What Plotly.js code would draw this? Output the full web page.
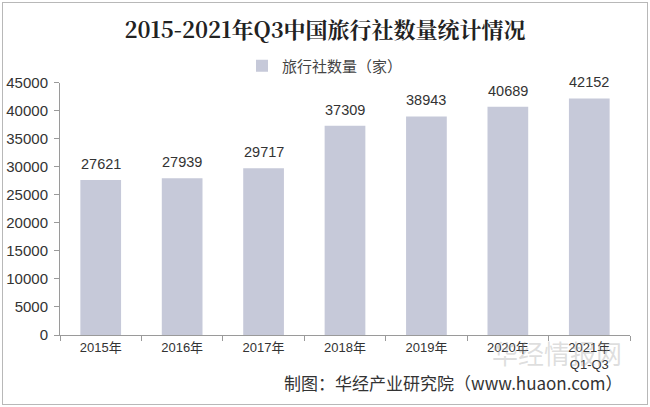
<!DOCTYPE html>
<html>
<head>
<meta charset="utf-8">
<script src="https://cdn.plot.ly/plotly-3.0.1.min.js"></script>
<style>
html,body{margin:0;padding:0;background:#fff;}
#wrap{position:relative;width:650px;height:407px;}
#chart{width:650px;height:407px;}
#frame{position:absolute;left:2px;top:2px;width:644px;height:401px;border:1px solid #b8b8b8;pointer-events:none;}
</style>
</head>
<body>
<div id="wrap"><div id="chart"></div><div id="frame"></div></div>
<script>
var categories = ["2015年","2016年","2017年","2018年","2019年","2020年","2021年<br>Q1-Q3"];
var values = [27621, 27939, 29717, 37309, 38943, 40689, 42152];
var seriesName = "旅行社数量（家）";
var titleText = "2015-2021年Q3中国旅行社数量统计情况";
var sourceText = "制图：华经产业研究院（www.huaon.com）";
var watermarkText = "华经情报网";

var fontFam = "Liberation Sans, Arial, Noto Sans CJK SC, sans-serif";

var trace = {
  type: "bar",
  x: categories,
  y: values,
  name: seriesName,
  marker: {color: "#c6c9d9"},
  showlegend: true
};

var labelAnns = categories.map(function (c, i) {
  return {
    x: c, y: values[i], xref: "x", yref: "y",
    text: String(values[i]), showarrow: false,
    yanchor: "bottom", yshift: 6,
    font: {family: fontFam, size: 14.5, color: "#333"}
  };
});

var layout = {
  width: 650, height: 407,
  margin: {l: 60, r: 20, t: 74, b: 72},
  paper_bgcolor: "#fff", plot_bgcolor: "#fff",
  bargap: 0.5,
  font: {family: fontFam, color: "#333"},
  title: {
    text: "<b>" + titleText + "</b>",
    font: {family: "Noto Serif CJK SC, Noto Sans CJK SC, serif", size: 22, color: "#222"},
    x: 0.5, xref: "container", xanchor: "center",
    y: 1 - 30/407, yref: "container", yanchor: "middle"
  },
  showlegend: true,
  legend: {
    orientation: "h",
    x: 0.5, xref: "container", xanchor: "center",
    y: 1 - 66/407, yref: "container", yanchor: "middle",
    font: {family: "Noto Sans CJK SC, sans-serif", size: 15, color: "#444"},
    itemwidth: 30
  },
  xaxis: {
    type: "category",
    showline: true, linecolor: "#9a9a9a", linewidth: 1,
    ticks: "outside", tickson: "boundaries", ticklen: 5, tickcolor: "#9a9a9a",
    tickfont: {family: fontFam, size: 13, color: "#333"},
    showgrid: false, zeroline: false
  },
  yaxis: {
    range: [0, 45000], dtick: 5000, tickformat: "d",
    showline: true, linecolor: "#9a9a9a", linewidth: 1,
    ticks: "outside", ticklen: 5, tickcolor: "#9a9a9a",
    tickfont: {family: fontFam, size: 15, color: "#333"},
    showgrid: false, zeroline: false,
    ticklabelstandoff: 3
  },
  annotations: labelAnns.concat([
    {
      text: watermarkText, xref: "paper", yref: "paper",
      x: 0.99, y: -0.068, xanchor: "right", yanchor: "middle", showarrow: false,
      font: {family: "Noto Sans CJK SC, sans-serif", size: 26, color: "rgba(160,160,160,0.35)"}
    },
    {
      text: sourceText, xref: "paper", yref: "paper",
      x: 0.992, y: -0.19, xanchor: "right", yanchor: "middle", showarrow: false,
      font: {family: "Noto Sans CJK SC, sans-serif", size: 17, color: "#333"}
    }
  ])
};

Plotly.newPlot("chart", [trace], layout, {displayModeBar: false, staticPlot: true});
</script>
</body>
</html>
